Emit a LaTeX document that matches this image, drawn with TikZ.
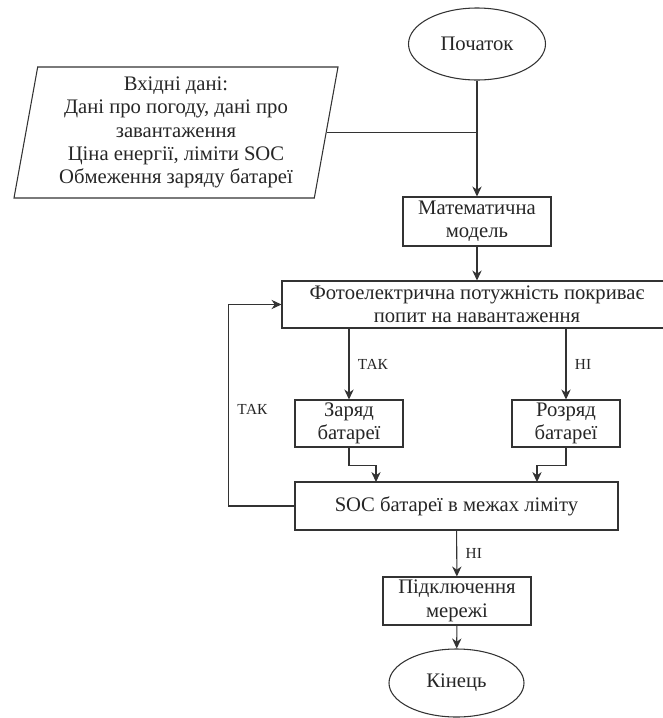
\documentclass[tikz,border=0pt]{standalone}
\usepackage{fontspec}
\setmainfont{Liberation Serif}
\usepackage{tikz}
\usetikzlibrary{shapes.geometric,arrows.meta}

\begin{document}
\begin{tikzpicture}[x=0.75pt,y=-0.75pt,
    line width=0.8pt, draw=black!80, text=black!85,
    >={Stealth[length=7.5pt,width=7pt]},
    txt/.style={font=\fontsize{15.5}{17.5}\selectfont, align=center, inner sep=0pt},
    box/.style={txt, draw, rectangle},
    term/.style={txt, draw, shape=ellipse},
    data/.style={txt, draw, shape=trapezium, trapezium left angle=78,
        trapezium right angle=102, trapezium stretches body},
    lbl/.style={font=\fontsize{11.5}{13}\selectfont, right, xshift=3pt}]
            \useasboundingbox (0,0) rectangle (662,718);

            \node (start) at (477,44) [term,minimum width=102.75pt,minimum height=54pt] {Початок};
            \node (input) at (176,132.5) [data,minimum width=243pt,minimum height=98.25pt]
                {Вхідні дані:\\Дані про погоду, дані про\\завантаження\\Ціна енергії, ліміти SOC\\Обмеження заряду батареї};
            \node (model) at (477,221.5) [box,minimum width=111pt,minimum height=36.75pt] {Математична\\модель};
            \draw (input.east) -- (input.east -| start);
            \draw[->] (start) -- (model);

            % right side of this box runs off the page
            \node (pvcheck) at (477,304.5) [box,minimum width=292.5pt,minimum height=35.25pt]
                {Фотоелектрична потужність покриває\\попит на навантаження};
            \node (charge) at (349,423.5) [box,minimum width=81pt,minimum height=35.25pt] {Заряд\\батареї};
            \node (discharge) at (566,423.5) [box,minimum width=81pt,minimum height=35.25pt] {Розряд\\батареї};
            \draw[->] (model) -- (pvcheck);
            \draw[->] (pvcheck.south -| charge) -- node[lbl] {ТАК} (charge);
            \draw[->] (pvcheck.south -| discharge) -- node[lbl] {НІ} (discharge);

            \node (soccheck) at (456.5,506) [box,minimum width=242.25pt,minimum height=36pt] {SOC батареї в межах ліміту};
            \coordinate (chargein) at (376,482);
            \coordinate (dischargein) at (537,482);
            \draw[->] (charge.south) -- ++(0,18) -| (chargein);
            \draw[->] (discharge.south) -- ++(0,18) -| (dischargein);
            \draw[->] (soccheck.west) -- ++(-66,0) |- node[lbl,pos=0.24] {ТАК} (pvcheck.west);

            \node (grid) at (457,601) [box,minimum width=111pt,minimum height=36pt] {Підключення\\мережі};
            \node (finish) at (456.5,683) [term,minimum width=101.25pt,minimum height=51pt] {Кінець};
            \draw[->] (soccheck) -- node[lbl] {НІ} (grid);
            \draw[->] (grid) -- (finish);
        \end{tikzpicture}
\end{document}
